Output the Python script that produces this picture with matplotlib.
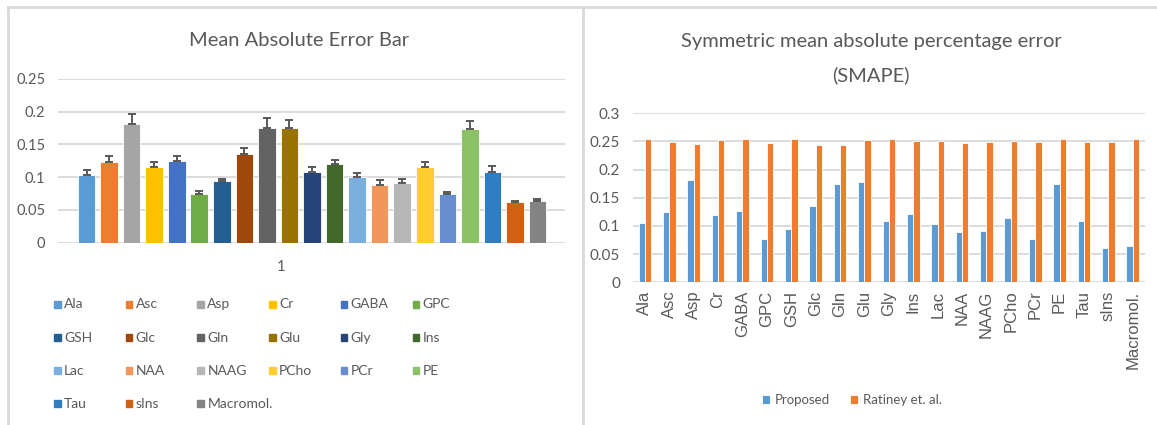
import matplotlib.pyplot as plt
import numpy as np
from matplotlib.lines import Line2D
from matplotlib.patches import Rectangle

metabolites = ['Ala', 'Asc', 'Asp', 'Cr', 'GABA', 'GPC', 'GSH', 'Glc', 'Gln', 'Glu', 'Gly',
               'Ins', 'Lac', 'NAA', 'NAAG', 'PCho', 'PCr', 'PE', 'Tau', 'sIns', 'Macromol.']

# left chart: MAE with (upper) error bars
mae = [0.103, 0.124, 0.182, 0.116, 0.125, 0.075, 0.094, 0.135, 0.175, 0.175, 0.108,
       0.120, 0.101, 0.088, 0.091, 0.115, 0.075, 0.173, 0.108, 0.062, 0.064]
mae_err = [0.008, 0.009, 0.014, 0.008, 0.008, 0.004, 0.004, 0.009, 0.015, 0.013, 0.008,
           0.007, 0.006, 0.007, 0.007, 0.008, 0.003, 0.013, 0.009, 0.002, 0.002]
bar_colors = ['#5B9BD5', '#ED7D31', '#A5A5A5', '#FFC000', '#4472C4', '#70AD47', '#255E91',
              '#9E480E', '#636363', '#997300', '#264478', '#43682B', '#7CAFDD', '#F1975A',
              '#B7B7B7', '#FFCD33', '#698ED0', '#8CC168', '#327DC2', '#D26012', '#848484']

# right chart: SMAPE
smape_proposed = [0.105, 0.124, 0.181, 0.119, 0.126, 0.076, 0.094, 0.136, 0.174, 0.178, 0.109,
                  0.121, 0.103, 0.089, 0.091, 0.114, 0.076, 0.174, 0.109, 0.061, 0.064]
smape_ratiney = [0.254, 0.249, 0.246, 0.252, 0.254, 0.247, 0.254, 0.244, 0.244, 0.252, 0.255,
                 0.250, 0.250, 0.248, 0.249, 0.250, 0.249, 0.254, 0.249, 0.249, 0.254]

W, H = 1157, 425
txt = '#595959'
grid_c = '#D9D9D9'
plt.rcParams['font.family'] = ['Lato', 'DejaVu Sans']

fig = plt.figure(figsize=(W / 100, H / 100), dpi=100)

def fx(px):
    return px / W

def fy(py):
    return 1 - py / H

# panel borders
for xs, ys in [((fx(8), 1), (fy(7), fy(7))),
               ((fx(8), fx(8)), (fy(7), 0)),
               ((fx(583), fx(583)), (fy(7), 0))]:
    fig.add_artist(Line2D(xs, ys, color=grid_c, lw=2))

# ---- left chart ----
ax1 = fig.add_axes([fx(57.7), fy(242.7), fx(565) - fx(57.7), fy(79) - fy(242.7)])
x = np.arange(len(metabolites))
ax1.bar(x, mae, width=0.78, color=bar_colors, edgecolor='white', linewidth=0.6, zorder=3)
ax1.errorbar(x, mae, yerr=[np.zeros(len(mae)), mae_err], fmt='none', ecolor='#595959',
             elinewidth=1.4, capsize=3, capthick=1.4, zorder=4)
ax1.set_xlim(-1.28, 21.22)
ax1.set_ylim(0, 0.25)
ax1.set_yticks(np.arange(0, 0.26, 0.05))
ax1.set_yticklabels(['0', '0.05', '0.1', '0.15', '0.2', '0.25'])
ax1.set_xticks([])
ax1.grid(axis='y', color=grid_c, lw=1.3, zorder=0)
for s in ax1.spines.values():
    s.set_visible(False)
ax1.tick_params(axis='y', length=0, pad=9, labelsize=10.5, labelcolor=txt)
ax1.text((281 - 57.7) / (565 - 57.7), -0.15, '1', transform=ax1.transAxes,
         ha='center', va='center', fontsize=10.5, color=txt)

# left legend in Excel's row-wise grid
for i, (name, c) in enumerate(zip(metabolites, bar_colors)):
    r, col = divmod(i, 6)
    px = 54 + col * 71.7
    py = 304.3 + r * 33.2
    fig.add_artist(Rectangle((fx(px), fy(py + 3.5)), fx(6.5), 7 / H, color=c,
                             transform=fig.transFigure))
    fig.text(fx(px + 10), fy(py), name, ha='left', va='center', fontsize=10, color=txt)

fig.text(fx(299), fy(40), 'Mean Absolute Error Bar', ha='center', va='center',
         fontsize=14.5, color=txt)

# ---- right chart ----
ax2 = fig.add_axes([fx(632.7), fy(282.3), fx(1145) - fx(632.7), fy(113.3) - fy(282.3)])
bw = 0.26
ax2.bar(x - bw / 2, smape_proposed, width=bw, color='#5B9BD5', edgecolor='white',
        linewidth=0.6, label='Proposed', zorder=3)
ax2.bar(x + bw / 2, smape_ratiney, width=bw, color='#ED7D31', edgecolor='white',
        linewidth=0.6, label='Ratiney et. al.', zorder=3)
ax2.set_xlim(-0.5, len(metabolites) - 0.5)
ax2.set_ylim(0, 0.3)
ax2.set_yticks(np.arange(0, 0.31, 0.05))
ax2.set_yticklabels(['0', '0.05', '0.1', '0.15', '0.2', '0.25', '0.3'])
ax2.set_xticks(x)
ax2.set_xticklabels(metabolites, rotation=90, family=['Liberation Sans', 'DejaVu Sans'])
ax2.grid(axis='y', color=grid_c, lw=1.3, zorder=0)
for s in ax2.spines.values():
    s.set_visible(False)
ax2.tick_params(axis='y', length=0, pad=9, labelsize=11, labelcolor=txt)
ax2.tick_params(axis='x', length=0, pad=6, labelsize=12, labelcolor=txt)
ax2.legend(loc='center', bbox_to_anchor=(fx(852), fy(400)), bbox_transform=fig.transFigure,
           ncol=2, frameon=False, fontsize=9.5, labelcolor=txt, handlelength=0.6,
           handleheight=0.6, handletextpad=0.4, columnspacing=1.5)

fig.text(fx(871), fy(41.7), 'Symmetric mean absolute percentage error', ha='center',
         va='center', fontsize=14.5, color=txt)
fig.text(fx(871), fy(75), '(SMAPE)', ha='center', va='center', fontsize=14.5, color=txt)

fig.savefig('out.png', dpi=100, facecolor='white')
